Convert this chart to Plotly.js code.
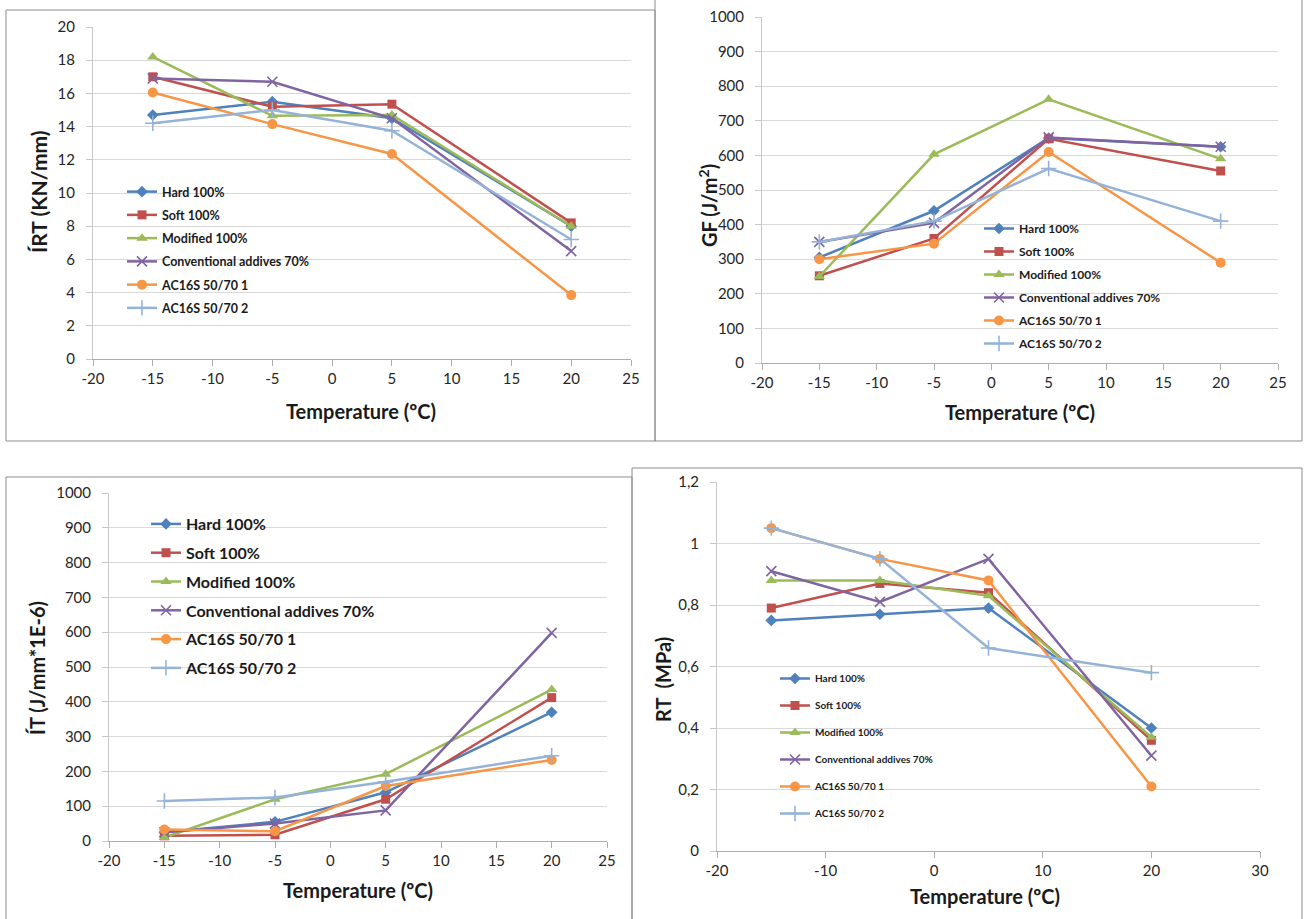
<!DOCTYPE html>
<html>
<head>
<meta charset="utf-8">
<script src="https://cdn.plot.ly/plotly-3.0.1.min.js"></script>
<style>html,body{margin:0;padding:0;background:#fff;}#chart{width:1310px;height:919px;}</style>
</head>
<body>
<div id="chart"></div>
<script>
// ---------- DATA ----------
const temperatures = [-15, -5, 5, 20];
const seriesNames = ['Hard 100%', 'Soft 100%', 'Modified 100%', 'Conventional addives 70%', 'AC16S 50/70 1', 'AC16S 50/70 2'];

// ÍRT (KN/mm)
const irtHard = [14.7, 15.5, 14.5, 8.0];
const irtSoft = [17.0, 15.2, 15.35, 8.2];
const irtModified = [18.2, 14.65, 14.7, 8.0];
const irtConventional = [16.9, 16.7, 14.5, 6.5];
const irtAc1 = [16.05, 14.15, 12.35, 3.85];
const irtAc2 = [14.2, 15.0, 13.75, 7.2];

// GF (J/m2)
const gfHard = [305, 440, 650, 625];
const gfSoft = [252, 360, 648, 555];
const gfModified = [250, 603, 762, 590];
const gfConventional = [350, 405, 652, 625];
const gfAc1 = [300, 345, 610, 290];
const gfAc2 = [350, 410, 562, 410];

// ÍT (J/mm*1E-6)
const itHard = [25, 55, 140, 370];
const itSoft = [15, 18, 120, 412];
const itModified = [10, 120, 192, 435];
const itConventional = [25, 50, 88, 598];
const itAc1 = [33, 28, 158, 233];
const itAc2 = [115, 125, 170, 245];

// RT (MPa)
const rtHard = [0.75, 0.77, 0.79, 0.40];
const rtSoft = [0.79, 0.87, 0.84, 0.36];
const rtModified = [0.88, 0.88, 0.83, 0.37];
const rtConventional = [0.91, 0.81, 0.95, 0.31];
const rtAc1 = [1.05, 0.95, 0.88, 0.21];
const rtAc2 = [1.05, 0.95, 0.66, 0.58];

// Tick labels
const tempTicks25 = [-20, -15, -10, -5, 0, 5, 10, 15, 20, 25];
const tempTickLabels25 = ['-20', '-15', '-10', '-5', '0', '5', '10', '15', '20', '25'];
const tempTicks30 = [-20, -10, 0, 10, 20, 30];
const tempTickLabels30 = ['-20', '-10', '0', '10', '20', '30'];
const rtTicks = [0, 0.2, 0.4, 0.6, 0.8, 1, 1.2];
const rtTickLabels = ['0', '0,2', '0,4', '0,6', '0,8', '1', '1,2'];

// ---------- STYLE ----------
const colors = ['#4F81BD', '#C0504D', '#9BBB59', '#8064A2', '#F79646', '#95B3D7'];
const symbols = ['diamond', 'square', 'triangle-up', 'x-thin', 'circle', 'cross-thin'];
const msizes = [9, 9, 10, 10, 10, 11];
const W = 1310, H = 919;
const px = v => v / W;
const py = v => 1 - v / H;

const panels = [
  {series: [irtHard, irtSoft, irtModified, irtConventional, irtAc1, irtAc2], xa: 'x', ya: 'y', legend: 'legend'},
  {series: [gfHard, gfSoft, gfModified, gfConventional, gfAc1, gfAc2], xa: 'x2', ya: 'y2', legend: 'legend2'},
  {series: [itHard, itSoft, itModified, itConventional, itAc1, itAc2], xa: 'x3', ya: 'y3', legend: 'legend3'},
  {series: [rtHard, rtSoft, rtModified, rtConventional, rtAc1, rtAc2], xa: 'x4', ya: 'y4', legend: 'legend4'}
];

const traces = [];
panels.forEach((p, pi) => {
  p.series.forEach((vals, si) => {
    const thin = symbols[si].indexOf('thin') >= 0;
    traces.push({
      type: 'scatter', mode: 'lines+markers',
      x: temperatures, y: vals,
      name: seriesNames[si],
      xaxis: p.xa, yaxis: p.ya,
      legend: p.legend,
      legendgroup: 'g' + pi + '_' + si,
      line: {color: colors[si], width: 2.5},
      marker: {symbol: symbols[si], size: msizes[si], color: colors[si],
               line: {color: colors[si], width: thin ? 1.6 : 0}},
      hoverinfo: 'x+y+name'
    });
  });
});

const tickFont = {family: 'Lato, "Open Sans", sans-serif', size: 15, color: '#262626'};
function xAxis(d0, d1, range, tv, tt, anchor) {
  return {domain: [px(d0), px(d1)], range: range, tickmode: 'array', tickvals: tv, ticktext: tt, anchor: anchor,
    showgrid: false, zeroline: false, showline: true, linecolor: '#ADADAD', linewidth: 1,
    ticks: 'outside', ticklen: 6, tickcolor: '#ADADAD', tickfont: tickFont, fixedrange: true};
}
function yAxis(top, bottom, range, dtick, anchor) {
  return {domain: [py(bottom), py(top)], range: range, dtick: dtick, tick0: 0, anchor: anchor,
    showgrid: true, gridcolor: '#D9D9D9', gridwidth: 1, zeroline: false, showline: true,
    linecolor: '#C8C8C8', linewidth: 1, ticks: 'outside', ticklen: 6, tickcolor: '#C8C8C8',
    ticklabelstandoff: 8, tickfont: tickFont, fixedrange: true};
}

function legendAt(xp, yp, size, gap) {
  return {x: px(xp), y: py(yp), xanchor: 'left', yanchor: 'top', bgcolor: 'rgba(0,0,0,0)',
    borderwidth: 0, tracegroupgap: gap, traceorder: 'grouped',
    font: {family: 'Lato, "Open Sans", sans-serif', size: size, color: '#1a1a1a', weight: 'bold'}};
}

const titleFont = {family: 'Lato, "Open Sans", sans-serif', size: 20, color: '#1a1a1a', weight: 'bold'};
function ann(text, x, y, angle, size) {
  return {text: text, xref: 'paper', yref: 'paper', x: px(x), y: py(y), xanchor: 'center', yanchor: 'middle',
    showarrow: false, textangle: angle, font: Object.assign({}, titleFont, {size: size})};
}

function box(x0, y0, x1, y1) {
  return {type: 'rect', xref: 'paper', yref: 'paper', x0: px(x0), x1: px(x1), y0: py(y1), y1: py(y0),
    line: {color: '#8C8C8C', width: 1}, fillcolor: 'rgba(0,0,0,0)', layer: 'below'};
}

const yAxis4 = yAxis(482, 851, [0, 1.2], 0.2, 'x4');
yAxis4.tickmode = 'array';
yAxis4.tickvals = rtTicks;
yAxis4.ticktext = rtTickLabels;

const layout = {
  width: W, height: H,
  margin: {l: 0, r: 0, t: 0, b: 0},
  paper_bgcolor: '#ffffff', plot_bgcolor: 'rgba(0,0,0,0)',
  font: {family: 'Lato, "Open Sans", sans-serif'},
  showlegend: true,
  xaxis: xAxis(93, 631, [-20, 25], tempTicks25, tempTickLabels25, 'y'),
  yaxis: yAxis(27, 359, [0, 20], 2, 'x'),
  xaxis2: xAxis(762, 1278, [-20, 25], tempTicks25, tempTickLabels25, 'y2'),
  yaxis2: yAxis(17, 363, [0, 1000], 100, 'x2'),
  xaxis3: xAxis(109, 607, [-20, 25], tempTicks25, tempTickLabels25, 'y3'),
  yaxis3: yAxis(493, 841, [0, 1000], 100, 'x3'),
  xaxis4: xAxis(717, 1260, [-20, 30], tempTicks30, tempTickLabels30, 'y4'),
  yaxis4: yAxis4,
  legend: legendAt(122, 177, 12.5, 4),
  legend2: legendAt(979, 214, 12, 4),
  legend3: legendAt(146, 507, 16, 5),
  legend4: legendAt(775, 664, 10, 8),
  shapes: [
    box(6, 10, 655, 441),
    box(655, -2, 1302, 441),
    box(6, 477, 632, 930),
    box(632, 468, 1302, 930)
  ],
  annotations: [
    ann('ÍRT (KN/mm)', 38, 192, -90, 21),
    ann('Temperature (ºC)', 361, 411, 0, 20),
    ann('GF (J/m<sup>2</sup>)', 708, 205, -90, 20),
    ann('Temperature (ºC)', 1020, 412, 0, 20),
    ann('ÍT (J/mm*1E-6)', 37, 668, -90, 20),
    ann('Temperature (ºC)', 358, 890, 0, 20),
    ann('RT  (MPa)', 663, 680, -90, 20),
    ann('Temperature (ºC)', 985, 896, 0, 20)
  ]
};

Plotly.newPlot('chart', traces, layout, {displayModeBar: false, staticPlot: true});
</script>
</body>
</html>
